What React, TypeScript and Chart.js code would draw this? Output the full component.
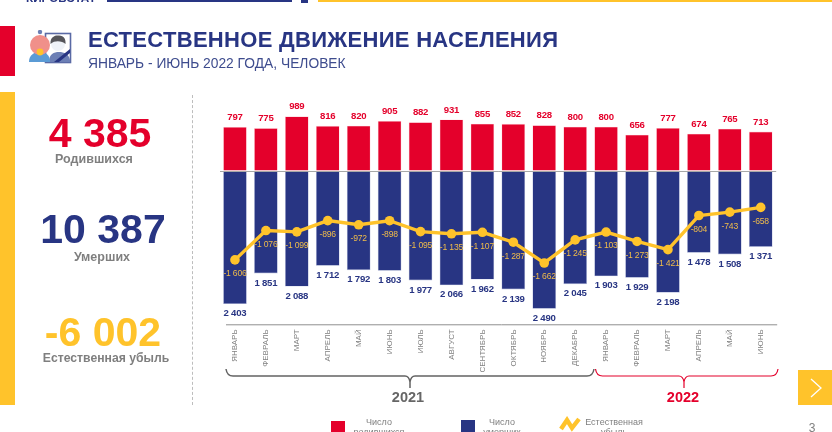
import React, { useEffect, useRef } from "react";
import { Chart, registerables } from "chart.js";

Chart.register(...registerables);

const months = ["ЯНВАРЬ","ФЕВРАЛЬ","МАРТ","АПРЕЛЬ","МАЙ","ИЮНЬ","ИЮЛЬ","АВГУСТ","СЕНТЯБРЬ","ОКТЯБРЬ","НОЯБРЬ","ДЕКАБРЬ","ЯНВАРЬ","ФЕВРАЛЬ","МАРТ","АПРЕЛЬ","МАЙ","ИЮНЬ"];
const births = [797,775,989,816,820,905,882,931,855,852,828,800,800,656,777,674,765,713];
const deaths = [2403,1851,2088,1712,1792,1803,1977,2066,1962,2139,2490,2045,1903,1929,2198,1478,1508,1371];
const natural = [-1606,-1076,-1099,-896,-972,-898,-1095,-1135,-1107,-1287,-1662,-1245,-1103,-1273,-1421,-804,-743,-658];

const RED = "#E4002B";
const BLUE = "#283583";
const YELLOW = "#FFC32B";
const FONT = "'Liberation Sans', Arial, sans-serif";

const fmt = (v: number) => {
  const s = String(Math.abs(v));
  const t = s.length > 3 ? s.slice(0, s.length - 3) + " " + s.slice(-3) : s;
  return (v < 0 ? "-" : "") + t;
};

function brace(ctx: any, x0: number, x1: number, xm: number, color: string, w: number) {
  const top = 369, mid = 376, tip = 388, r = 6;
  ctx.save();
  ctx.strokeStyle = color;
  ctx.lineWidth = w;
  ctx.beginPath();
  ctx.moveTo(x0, top);
  ctx.quadraticCurveTo(x0 + 1, mid, x0 + r + 1, mid);
  ctx.lineTo(xm - 5, mid);
  ctx.quadraticCurveTo(xm - 1, mid, xm, mid + 6);
  ctx.lineTo(xm, tip);
  ctx.moveTo(xm, mid + 6);
  ctx.quadraticCurveTo(xm + 1, mid, xm + 5, mid);
  ctx.lineTo(x1 - r - 1, mid);
  ctx.quadraticCurveTo(x1 - 1, mid, x1, top);
  ctx.stroke();
  ctx.restore();
}

const overlay = {
  id: "overlay",
  afterDatasetsDraw(chart: any) {
    const { ctx } = chart;
    const red = chart.getDatasetMeta(0).data;
    const blue = chart.getDatasetMeta(1).data;
    const line = chart.getDatasetMeta(2).data;
    ctx.save();
    ctx.textAlign = "center";
    ctx.textBaseline = "middle";
    ctx.font = `bold 9.6px ${FONT}`;
    ctx.letterSpacing = "-0.25px";
    ctx.fillStyle = RED;
    births.forEach((v, i) => ctx.fillText(fmt(v), red[i].x, red[i].y - 9.5));
    ctx.fillStyle = BLUE;
    deaths.forEach((v, i) => ctx.fillText(fmt(v), blue[i].x, blue[i].y + 9.5));
    ctx.font = `8.6px ${FONT}`;
    ctx.letterSpacing = "-0.2px";
    ctx.fillStyle = "#F0BC4A";
    natural.forEach((v, i) => ctx.fillText(fmt(v), line[i].x, line[i].y + 14));
    ctx.letterSpacing = "0px";

    const xs = chart.scales.x;
    ctx.strokeStyle = "#8f8f8f";
    ctx.lineWidth = 1;
    ctx.beginPath();
    ctx.moveTo(226, xs.top + 0.5);
    ctx.lineTo(xs.right + 1, xs.top + 0.5);
    ctx.stroke();

    brace(ctx, 226, 594, 410, "#636363", 1.5);
    brace(ctx, 595.5, 778, 684, RED, 1.2);
    ctx.font = `bold 14.5px ${FONT}`;
    ctx.fillStyle = "#666666";
    ctx.fillText("2021", 408, 397.5);
    ctx.fillStyle = RED;
    ctx.fillText("2022", 683, 397.5);
    ctx.restore();
  },
};

const abs = (o: React.CSSProperties): React.CSSProperties => ({ position: "absolute", ...o });

function Txt({ x, y, size, color, bold, children, center, ls }: any) {
  return (
    <div
      style={abs({
        left: center ? x - 200 : x,
        width: center ? 400 : undefined,
        top: y - size,
        lineHeight: size * 2 + "px",
        fontSize: size,
        color,
        fontWeight: bold ? 700 : 400,
        fontFamily: FONT,
        textAlign: center ? "center" : "left",
        whiteSpace: "nowrap",
        letterSpacing: ls,
      })}
    >
      {children}
    </div>
  );
}

export default function App() {
  const ref = useRef<HTMLCanvasElement>(null);
  useEffect(() => {
    document.documentElement.style.overflow = "hidden";
    const chart = new Chart(ref.current!, {
      data: {
        labels: months,
        datasets: [
          { type: "bar", data: births, backgroundColor: RED, borderColor: "rgba(255,190,200,0.7)", borderWidth: 0.6, stack: "a", categoryPercentage: 1, barPercentage: 0.766, order: 2 },
          { type: "bar", data: deaths.map((d) => -d), backgroundColor: BLUE, borderColor: "rgba(150,160,205,0.7)", borderWidth: 0.6, stack: "a", categoryPercentage: 1, barPercentage: 0.766, order: 2 },
          { type: "line", data: natural, borderColor: YELLOW, backgroundColor: YELLOW, borderWidth: 3.4, pointRadius: 4.8, pointBackgroundColor: YELLOW, pointBorderWidth: 0, tension: 0, stack: "n", order: 1 },
        ],
      } as any,
      options: {
        responsive: false,
        animation: false,
        layout: { padding: { left: 219.5, right: 55.8, top: 104.6, bottom: 47.7 } },
        plugins: { legend: { display: false }, tooltip: { enabled: false } },
        scales: {
          x: {
            stacked: true,
            afterFit: (s: any) => { s.height = 60; },
            grid: { display: false, drawTicks: false },
            border: { display: false },
            ticks: { autoSkip: false, minRotation: 90, maxRotation: 90, padding: 5, color: "#808080", font: { size: 8, family: FONT } },
          },
          y: {
            stacked: true,
            min: -2770,
            max: 1200,
            afterFit: (s: any) => { s.width = 0; },
            afterBuildTicks: (s: any) => { s.ticks = [{ value: 0 }]; },
            grid: { color: "#a8a8a8", lineWidth: 1, drawTicks: false, z: 1 },
            border: { display: false },
            ticks: { display: false },
          },
        },
      } as any,
      plugins: [overlay],
    });
    return () => chart.destroy();
  }, []);

  return (
    <div style={abs({ left: 0, top: 0, width: 832, height: 432, overflow: "hidden", background: "#fff" })}>
      <canvas ref={ref} width={832} height={432} style={abs({ left: 0, top: 0, width: 832, height: 432 })} />

      <div style={abs({ left: 26, top: -9, fontFamily: FONT, fontWeight: 700, fontSize: 11.7, color: BLUE, lineHeight: "14px" })}>КИРОВСТАТ</div>
      <div style={abs({ left: 107, top: 0, width: 185, height: 1.5, background: BLUE })} />
      <div style={abs({ left: 301, top: 0, width: 7, height: 3, background: BLUE })} />
      <div style={abs({ left: 318, top: 0, width: 514, height: 1.5, background: YELLOW })} />

      <div style={abs({ left: 0, top: 26, width: 15, height: 50, background: RED })} />
      <div style={abs({ left: 0, top: 92, width: 15, height: 313, background: YELLOW })} />
      <div style={abs({ left: 192, top: 95, height: 310, borderLeft: "1px dashed #bdbdbd" })} />

      <svg style={abs({ left: 28, top: 30, width: 46, height: 36 })} viewBox="0 0 46 36">
        <rect x="17.5" y="3.5" width="25" height="29" fill="#fff" stroke="#5a6aa5" strokeWidth="1.6" />
        <path d="M21 32 C21 24 26 22 31 22 C36 22 41 24 42 30 L42 32 Z" fill="#6c7fb5" />
        <circle cx="30" cy="14" r="7" fill="#eef2f8" />
        <path d="M22.5 14 C22 6 28 5 31 5.5 C36 6 38 9 37.5 14 C34 11 27 10 22.5 14 Z" fill="#55555a" />
        <path d="M26 32 L42 19 L42 23 L31 32 Z" fill="#283583" />
        <path d="M1 32 C1 25 6 22 12 22 C18 22 22 25 22 32 Z" fill="#5b9bd5" />
        <circle cx="12" cy="15" r="10" fill="#F0908A" />
        <circle cx="12" cy="2" r="2.2" fill="#6c7fb5" />
        <circle cx="12" cy="22" r="3.4" fill="#FFC32B" />
      </svg>

      <Txt x={88} y={40} size={22} bold color={BLUE} ls="0.3px">ЕСТЕСТВЕННОЕ ДВИЖЕНИЕ НАСЕЛЕНИЯ</Txt>
      <Txt x={88} y={64} size={13.8} color="#3E4C8E">ЯНВАРЬ - ИЮНЬ 2022 ГОДА, ЧЕЛОВЕК</Txt>

      <Txt center x={100} y={133} size={41} bold color={RED}>4 385</Txt>
      <Txt center x={94} y={159} size={12.5} bold color="#7f7f7f">Родившихся</Txt>
      <Txt center x={103} y={228.5} size={41} bold color={BLUE}>10 387</Txt>
      <Txt center x={102} y={257} size={12.5} bold color="#7f7f7f">Умерших</Txt>
      <Txt center x={103} y={332} size={41} bold color={YELLOW}>-6 002</Txt>
      <Txt center x={106} y={358} size={12.2} bold color="#7f7f7f">Естественная убыль</Txt>

      <div style={abs({ left: 331, top: 421, width: 14, height: 14, background: RED })} />
      <Txt center x={379} y={422} size={9} color="#7f7f7f">Число</Txt>
      <Txt center x={379} y={432} size={9} color="#7f7f7f">родившихся</Txt>
      <div style={abs({ left: 461, top: 420, width: 14, height: 14, background: BLUE })} />
      <Txt center x={502} y={422} size={9} color="#7f7f7f">Число</Txt>
      <Txt center x={502} y={432} size={9} color="#7f7f7f">умерших</Txt>
      <svg style={abs({ left: 558, top: 416, width: 24, height: 16 })} viewBox="0 0 24 16">
        <path d="M3 13 L9 4 L14 12 L21 3" fill="none" stroke={YELLOW} strokeWidth="4.4" />
      </svg>
      <Txt center x={614} y={422} size={9} color="#7f7f7f">Естественная</Txt>
      <Txt center x={614} y={432} size={9} color="#7f7f7f">убыль</Txt>

      <div style={abs({ left: 798, top: 370, width: 34, height: 35, background: YELLOW })} />
      <svg style={abs({ left: 798, top: 370, width: 34, height: 35 })} viewBox="0 0 34 35">
        <path d="M13 9 L23 18 L13 27" fill="none" stroke="#fff" strokeWidth="1.3" />
      </svg>
      <Txt center x={812} y={428} size={12} color="#7f7f7f">3</Txt>
    </div>
  );
}
